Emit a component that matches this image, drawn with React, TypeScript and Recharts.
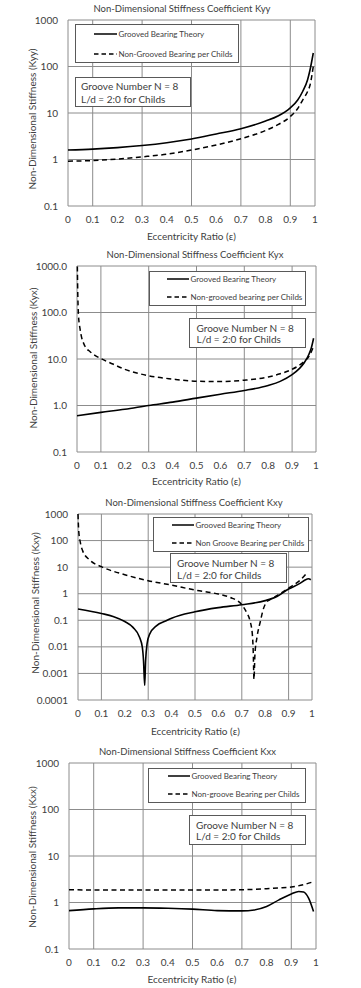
import React from "react";
import { CartesianGrid, Line, LineChart, XAxis, YAxis } from "recharts";

// eccentricity ticks shared by all four charts
const epsTicks = [0, 0.1, 0.2, 0.3, 0.4, 0.5, 0.6, 0.7, 0.8, 0.9, 1];

// Kyy
const kyyEps = [0, 0.1, 0.2, 0.3, 0.4, 0.5, 0.6, 0.7, 0.8, 0.85, 0.9, 0.93, 0.95, 0.97, 0.98, 0.993];
const kyyGrooved = [1.6, 1.67, 1.8, 2.0, 2.3, 2.77, 3.55, 4.6, 6.7, 8.6, 12.9, 19, 29, 52, 85, 195];
const kyyChilds = [0.92, 0.95, 1.02, 1.14, 1.3, 1.6, 2.05, 2.8, 4.2, 5.6, 8.4, 12.5, 19, 29, 40, 100];

// Kyx
const kyxGroovedEps = [0, 0.1, 0.2, 0.3, 0.4, 0.5, 0.6, 0.7, 0.8, 0.85, 0.9, 0.93, 0.95, 0.97, 0.98, 0.99];
const kyxGrooved = [0.6, 0.71, 0.83, 1.0, 1.18, 1.44, 1.75, 2.1, 2.7, 3.3, 4.6, 6.2, 8.2, 12.5, 17, 28];
const kyxChildsEps = [0.001, 0.003, 0.006, 0.0126, 0.033, 0.054, 0.075, 0.1, 0.15, 0.2, 0.25, 0.3, 0.4, 0.5, 0.6, 0.7, 0.8, 0.85, 0.9, 0.95, 0.97, 0.99];
const kyxChilds = [1500, 300, 90, 45, 19, 14.5, 12, 10.2, 7.8, 6.0, 5.0, 4.35, 3.7, 3.33, 3.28, 3.5, 4.1, 4.8, 6.0, 8.8, 11.3, 18.6];

// Kxy
const kxyGroovedEps = [0, 0.1, 0.15, 0.2, 0.235, 0.263, 0.275, 0.28, 0.285, 0.289, 0.295, 0.306, 0.335, 0.377, 0.4, 0.5, 0.6, 0.7, 0.8, 0.85, 0.9, 0.95, 0.97, 0.985, 0.995];
const kxyGrooved = [0.265, 0.18, 0.14, 0.09, 0.054, 0.023, 0.0095, 0.003, 0.00035, 0.003, 0.0128, 0.03, 0.062, 0.096, 0.12, 0.21, 0.3, 0.385, 0.55, 0.79, 1.5, 2.5, 3.27, 3.67, 3.36];
const kxyChildsEps = [0, 0.003, 0.01, 0.02, 0.05, 0.1, 0.2, 0.3, 0.4, 0.5, 0.6, 0.65, 0.7, 0.72, 0.735, 0.745, 0.749, 0.752, 0.756, 0.765, 0.78, 0.79, 0.805, 0.826, 0.85, 0.9, 0.95, 0.98];
const kxyChilds = [1000, 235, 85, 41, 18.5, 10.4, 5.2, 3.1, 2.1, 1.37, 0.97, 0.73, 0.385, 0.2, 0.096, 0.03, 0.006, 0.0006, 0.005, 0.023, 0.096, 0.23, 0.47, 0.63, 0.84, 1.63, 3.27, 6.3];

// Kxx
const kxxGroovedEps = [0, 0.1, 0.2, 0.3, 0.4, 0.5, 0.6, 0.7, 0.75, 0.8, 0.85, 0.9, 0.93, 0.95, 0.97, 0.99];
const kxxGrooved = [0.67, 0.73, 0.765, 0.765, 0.75, 0.72, 0.67, 0.66, 0.69, 0.82, 1.14, 1.52, 1.73, 1.68, 1.24, 0.64];
const kxxChildsEps = [0, 0.1, 0.2, 0.3, 0.4, 0.5, 0.6, 0.7, 0.8, 0.85, 0.9, 0.95, 0.99];
const kxxChilds = [1.88, 1.86, 1.86, 1.86, 1.86, 1.86, 1.86, 1.88, 1.98, 2.05, 2.15, 2.42, 2.8];

const ticks3 = [0.1, 1, 10, 100, 1000];
const ticks7 = [0.0001, 0.001, 0.01, 0.1, 1, 10, 100, 1000];

const pts = (xs: number[], ys: number[]) => xs.map((x, i) => ({ eps: x, k: ys[i] }));

const FONT = "Lato, 'Open Sans', sans-serif";
const TEXT = "#404040";
const GRID = "#8c8c8c";

type Box = { x: number; y: number; w: number; h: number };

type ChartDef = {
  top: number;
  title: string;
  titleX: number;
  titleY: number;
  yTitle: string;
  yTitleX: number;
  yTitleY: number;
  xTitleX: number;
  xTitleY: number;
  plot: { left: number; right: number; top: number; bottom: number };
  yTicks: number[];
  yFmt: (v: number) => string;
  grooved: { eps: number; k: number }[];
  childs: { eps: number; k: number }[];
  legend: Box & { lineX: number; lineW: number; row1: number; row2: number; label1: string; label2: string };
  note: Box & { textX: number; row1: number; row2: number };
};

const H = 247;

const charts: ChartDef[] = [
  {
    top: 0,
    title: "Non-Dimensional Stiffness Coefficient Kyy",
    titleX: 182, titleY: 9,
    yTitle: "Non-Dimensional Stiffness (Kyy)", yTitleX: 32, yTitleY: 119,
    xTitleX: 191.5, xTitleY: 236,
    plot: { left: 68, right: 315, top: 20, bottom: 206 },
    yTicks: ticks3,
    yFmt: (v) => String(v),
    grooved: pts(kyyEps, kyyGrooved),
    childs: pts(kyyEps, kyyChilds),
    legend: { x: 75, y: 24, w: 164, h: 39, lineX: 94, lineW: 23, row1: 33.5, row2: 53.5, label1: "Grooved Bearing Theory", label2: "Non-Grooved Bearing per Childs" },
    note: { x: 75, y: 77, w: 116, h: 30, textX: 81, row1: 86, row2: 98.5 },
  },
  {
    top: 247,
    title: "Non-Dimensional Stiffness Coefficient Kyx",
    titleX: 195, titleY: 255,
    yTitle: "Non-Dimensional Stiffness (Kyx)", yTitleX: 33, yTitleY: 358,
    xTitleX: 196.5, xTitleY: 480.5,
    plot: { left: 77, right: 316, top: 266, bottom: 452 },
    yTicks: ticks3,
    yFmt: (v) => v.toFixed(1),
    grooved: pts(kyxGroovedEps, kyxGrooved),
    childs: pts(kyxChildsEps, kyxChilds),
    legend: { x: 149, y: 271, w: 157, h: 35, lineX: 167, lineW: 22, row1: 278.5, row2: 296.5, label1: "Grooved Bearing Theory", label2: "Non-grooved bearing per Childs" },
    note: { x: 189, y: 318, w: 117, h: 30, textX: 196.5, row1: 327.5, row2: 339 },
  },
  {
    top: 494,
    title: "Non-Dimensional Stiffness Coefficient Kxy",
    titleX: 194, titleY: 503,
    yTitle: "Non-Dimensional Stiffness (Kxy)", yTitleX: 35, yTitleY: 603,
    xTitleX: 195.5, xTitleY: 730.5,
    plot: { left: 78, right: 312, top: 514, bottom: 700 },
    yTicks: ticks7,
    yFmt: (v) => String(v),
    grooved: pts(kxyGroovedEps, kxyGrooved),
    childs: pts(kxyChildsEps, kxyChilds),
    legend: { x: 153, y: 517, w: 156, h: 35, lineX: 172, lineW: 22, row1: 524.5, row2: 542.5, label1: "Grooved Bearing Theory", label2: "Non Groove Bearing per Childs" },
    note: { x: 170, y: 553, w: 117, h: 30, textX: 177, row1: 562.5, row2: 574.5 },
  },
  {
    top: 741,
    title: "Non-Dimensional Stiffness Coefficient Kxx",
    titleX: 187.5, titleY: 751.5,
    yTitle: "Non-Dimensional Stiffness (Kxx)", yTitleX: 32, yTitleY: 856.5,
    xTitleX: 192, xTitleY: 979,
    plot: { left: 69, right: 316, top: 763, bottom: 949 },
    yTicks: ticks3,
    yFmt: (v) => String(v),
    grooved: pts(kxxGroovedEps, kxxGrooved),
    childs: pts(kxxChildsEps, kxxChilds),
    legend: { x: 148, y: 768, w: 158, h: 35, lineX: 168, lineW: 22, row1: 776, row2: 794, label1: "Grooved Bearing Theory", label2: "Non-groove Bearing per Childs" },
    note: { x: 189, y: 815, w: 117, h: 30, textX: 196, row1: 824.5, row2: 836 },
  },
];

function Centered({ x, y, size, rotate, children }: { x: number; y: number; size: number; rotate?: boolean; children: React.ReactNode }) {
  return (
    <div
      style={{
        position: "absolute",
        left: x,
        top: y,
        transform: `translate(-50%, -50%)${rotate ? " rotate(-90deg)" : ""}`,
        whiteSpace: "nowrap",
        fontSize: size,
        color: TEXT,
        lineHeight: 1,
      }}
    >
      {children}
    </div>
  );
}

function LegendRow({ x, y, lineW, dashed, label }: { x: number; y: number; lineW: number; dashed: boolean; label: string }) {
  return (
    <div style={{ position: "absolute", left: x, top: y - 5, height: 10, display: "flex", alignItems: "center", whiteSpace: "nowrap" }}>
      <svg width={lineW} height={4} style={{ display: "block" }}>
        <line x1={0} y1={2} x2={lineW} y2={2} stroke="#000" strokeWidth={1.5} strokeDasharray={dashed ? "4.5 3" : undefined} />
      </svg>
      <span style={{ fontSize: 8, color: TEXT, marginLeft: 1.5 }}>{label}</span>
    </div>
  );
}

function StiffnessChart({ c }: { c: ChartDef }) {
  const margin = {
    top: c.plot.top - c.top,
    right: 361 - c.plot.right,
    bottom: c.top + H - c.plot.bottom - 30,
    left: 0,
  };
  const yMin = c.yTicks[0];
  const yMax = c.yTicks[c.yTicks.length - 1];
  return (
    <>
      <div style={{ position: "absolute", left: 0, top: c.top }}>
        <LineChart width={361} height={H} margin={margin}>
          <CartesianGrid stroke={GRID} strokeWidth={1} />
          <XAxis
            dataKey="eps"
            type="number"
            domain={[0, 1]}
            ticks={epsTicks}
            tickFormatter={(v) => String(v)}
            axisLine={false}
            tickLine={false}
            tickMargin={4}
            height={30}
            tick={{ fill: TEXT, fontSize: 10, fontFamily: FONT }}
          />
          <YAxis
            type="number"
            scale="log"
            domain={[yMin, yMax]}
            ticks={c.yTicks}
            allowDataOverflow
            tickFormatter={c.yFmt}
            axisLine={false}
            tickLine={false}
            tickMargin={4}
            width={c.plot.left}
            tick={{ fill: TEXT, fontSize: 10, fontFamily: FONT }}
          />
          <Line data={c.grooved} dataKey="k" type="monotone" stroke="#000" strokeWidth={1.6} dot={false} isAnimationActive={false} />
          <Line data={c.childs} dataKey="k" type="monotone" stroke="#000" strokeWidth={1.5} strokeDasharray="5 3.5" dot={false} isAnimationActive={false} />
        </LineChart>
      </div>
      <Centered x={c.titleX} y={c.titleY} size={9.5}>{c.title}</Centered>
      <Centered x={c.xTitleX} y={c.xTitleY} size={10}>Eccentricity Ratio (ε)</Centered>
      <Centered x={c.yTitleX} y={c.yTitleY} size={10} rotate>{c.yTitle}</Centered>
      <div style={{ position: "absolute", left: c.legend.x, top: c.legend.y, width: c.legend.w, height: c.legend.h, border: "1px solid #595959", background: "#fff", boxSizing: "border-box" }} />
      <LegendRow x={c.legend.lineX} y={c.legend.row1} lineW={c.legend.lineW} dashed={false} label={c.legend.label1} />
      <LegendRow x={c.legend.lineX} y={c.legend.row2} lineW={c.legend.lineW} dashed label={c.legend.label2} />
      <div style={{ position: "absolute", left: c.note.x, top: c.note.y, width: c.note.w, height: c.note.h, border: "1px solid #595959", background: "#fff", boxSizing: "border-box" }} />
      <div style={{ position: "absolute", left: c.note.textX, top: c.note.row1 - 5, fontSize: 10, color: TEXT, lineHeight: "10px", whiteSpace: "nowrap" }}>Groove Number N = 8</div>
      <div style={{ position: "absolute", left: c.note.textX, top: c.note.row2 - 5, fontSize: 10, color: TEXT, lineHeight: "10px", whiteSpace: "nowrap" }}>L/d = 2:0 for Childs</div>
    </>
  );
}

export default function App() {
  return (
    <div style={{ position: "absolute", left: 0, top: 0, width: 361, height: 988, background: "#fff", fontFamily: FONT, overflow: "hidden" }}>
      {charts.map((c) => (
        <StiffnessChart key={c.title} c={c} />
      ))}
    </div>
  );
}
